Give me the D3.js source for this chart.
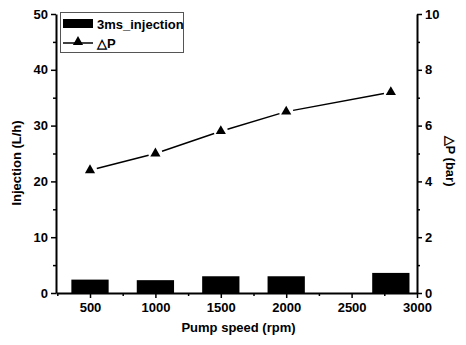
<!DOCTYPE html>
<html>
<head>
<meta charset="utf-8">
<script src="https://cdn.jsdelivr.net/npm/d3@7"></script>
<style>
  body { margin: 0; background: #fff; }
  text { font-family: "Liberation Sans", Arial, sans-serif; font-weight: bold; fill: #000; }
</style>
</head>
<body>
<div id="chart"></div>
<script>
// data
const speeds = [500, 1000, 1500, 2000, 2800];
const injection = [2.4, 2.3, 3.0, 3.0, 3.6];   // L/h
const deltaP = [4.4, 5.0, 5.8, 6.5, 7.2];      // bar
const xTicks = [500, 1000, 1500, 2000, 2500, 3000];
const xMinor = [250, 750, 1250, 1750, 2250, 2750];
const leftTicks = [0, 10, 20, 30, 40, 50];
const leftMinor = [5, 15, 25, 35, 45];
const rightTicks = [0, 2, 4, 6, 8, 10];
const rightMinor = [1, 3, 5, 7, 9];

const width = 466, height = 345;
const margin = {top: 14, right: 49, bottom: 52, left: 56};
const barW = 285; // rpm

const svg = d3.select('#chart').append('svg')
    .attr('width', width)
    .attr('height', height);

const x = d3.scaleLinear().domain([240, 3000]).range([margin.left, width - margin.right]);
const yL = d3.scaleLinear().domain([0, 50]).range([height - margin.bottom, margin.top]);
const yR = d3.scaleLinear().domain([0, 10]).range([height - margin.bottom, margin.top]);

// bars
svg.selectAll('.bar').data(speeds).enter().append('rect')
    .attr('x', d => x(d - barW / 2))
    .attr('width', d => x(d + barW / 2) - x(d - barW / 2))
    .attr('y', (d, i) => yL(injection[i]))
    .attr('height', (d, i) => yL(0) - yL(injection[i]))
    .attr('fill', '#000');

// axes
function styleAxis(g){
    g.selectAll('.domain').attr('stroke-width', 2).attr('stroke', '#000');
    g.selectAll('.tick line').attr('stroke-width', 1.5).attr('stroke', '#000');
    g.selectAll('.tick text').style('font-size', '13px');
}
const fmt = d3.format('d');

svg.append('g')
    .attr('transform', 'translate(0,' + yL(0) + ')')
    .call(d3.axisBottom(x).tickValues(xTicks).tickFormat(fmt).tickSize(5).tickPadding(5).tickSizeOuter(0))
    .call(styleAxis);
svg.append('g')
    .attr('transform', 'translate(0,' + yL(0) + ')')
    .call(d3.axisBottom(x).tickValues(xMinor).tickSize(3).tickFormat('').tickSizeOuter(0))
    .call(g => g.select('.domain').remove())
    .call(g => g.selectAll('.tick line').attr('stroke-width', 1.5));

svg.append('g')
    .attr('transform', 'translate(' + margin.left + ',0)')
    .call(d3.axisLeft(yL).tickValues(leftTicks).tickFormat(fmt).tickSize(5).tickPadding(3).tickSizeOuter(0))
    .call(styleAxis);
svg.append('g')
    .attr('transform', 'translate(' + margin.left + ',0)')
    .call(d3.axisLeft(yL).tickValues(leftMinor).tickSize(3).tickFormat('').tickSizeOuter(0))
    .call(g => g.select('.domain').remove())
    .call(g => g.selectAll('.tick line').attr('stroke-width', 1.5));

svg.append('g')
    .attr('transform', 'translate(' + (width - margin.right) + ',0)')
    .call(d3.axisRight(yR).tickValues(rightTicks).tickFormat(fmt).tickSize(5).tickPadding(3).tickSizeOuter(0))
    .call(styleAxis);
svg.append('g')
    .attr('transform', 'translate(' + (width - margin.right) + ',0)')
    .call(d3.axisRight(yR).tickValues(rightMinor).tickSize(3).tickFormat('').tickSizeOuter(0))
    .call(g => g.select('.domain').remove())
    .call(g => g.selectAll('.tick line').attr('stroke-width', 1.5));

// delta P line with gaps round the markers
const gap = 7;
for(let i = 0; i < speeds.length - 1; i++){
    let x1 = x(speeds[i]), y1 = yR(deltaP[i]);
    let x2 = x(speeds[i + 1]), y2 = yR(deltaP[i + 1]);
    let len = Math.hypot(x2 - x1, y2 - y1);
    let ux = (x2 - x1) / len, uy = (y2 - y1) / len;
    svg.append('line')
        .attr('x1', x1 + ux * gap).attr('y1', y1 + uy * gap)
        .attr('x2', x2 - ux * gap).attr('y2', y2 - uy * gap)
        .attr('stroke', '#000')
        .attr('stroke-width', 1.5);
}

const tri = d3.symbol().type(d3.symbolTriangle).size(45);
svg.selectAll('.marker').data(speeds).enter().append('path')
    .attr('d', tri)
    .attr('transform', (d, i) => 'translate(' + x(d) + ',' + yR(deltaP[i]) + ')')
    .attr('fill', '#000');

// axis titles
svg.append('text')
    .attr('x', (margin.left + width - margin.right) / 2 + 2)
    .attr('y', 332)
    .attr('text-anchor', 'middle')
    .style('font-size', '13px')
    .text('Pump speed (rpm)');

svg.append('text')
    .attr('transform', 'translate(21,163) rotate(-90)')
    .attr('text-anchor', 'middle')
    .style('font-size', '13px')
    .text('Injection (L/h)');

svg.append('text')
    .attr('transform', 'translate(446,161) rotate(90)')
    .attr('text-anchor', 'middle')
    .style('font-size', '13px')
    .text('\u25B3P (bar)');

// legend
const lg = svg.append('g');
lg.append('rect')
    .attr('x', 60.5).attr('y', 12.5)
    .attr('width', 123).attr('height', 40)
    .attr('fill', '#fff')
    .attr('stroke', '#555')
    .attr('stroke-width', 1);
lg.append('rect')
    .attr('x', 63).attr('y', 19)
    .attr('width', 30).attr('height', 9)
    .attr('fill', '#000');
lg.append('text')
    .attr('x', 97).attr('y', 29)
    .style('font-size', '13px')
    .text('3ms_injection');
lg.append('line')
    .attr('x1', 63).attr('x2', 93)
    .attr('y1', 43).attr('y2', 43)
    .attr('stroke', '#000').attr('stroke-width', 1.5);
lg.append('path')
    .attr('d', tri)
    .attr('transform', 'translate(78,42)')
    .attr('fill', '#000');
lg.append('text')
    .attr('x', 97).attr('y', 48)
    .style('font-size', '13px')
    .text('\u25B3P');
</script>
</body>
</html>
